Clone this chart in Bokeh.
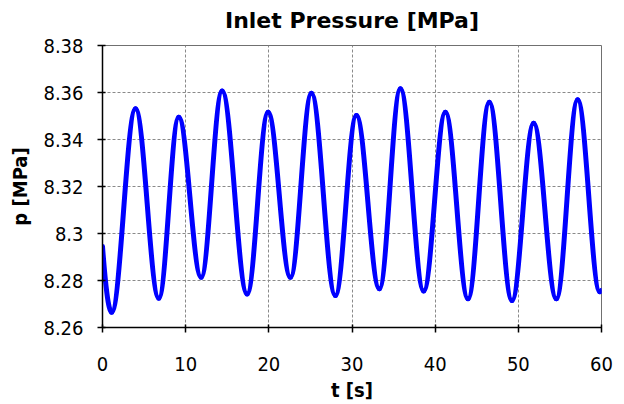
from bokeh.plotting import figure
from bokeh.models import FixedTicker, LinearAxis
from bokeh.embed import file_html
from bokeh.resources import INLINE

# Turning points of the inlet pressure trace (time in s, pressure in MPa)
t_s = [0.0, 1.1, 3.97, 6.77, 9.17, 11.86, 14.38, 17.39, 19.91, 22.6, 25.12, 28.0,
       30.53, 33.29, 35.82, 38.62, 41.23, 43.95, 46.51, 49.24, 51.84, 54.57, 57.13,
       59.8, 60.0]
p_mpa = [8.2945, 8.2665, 8.3531, 8.2725, 8.3495, 8.2814, 8.3606, 8.2743, 8.3516,
         8.2814, 8.3597, 8.2736, 8.3502, 8.2765, 8.3616, 8.2755, 8.3516, 8.2722,
         8.3559, 8.2715, 8.3469, 8.2722, 8.3569, 8.2752, 8.2758]

x_ticks = [0, 10, 20, 30, 40, 50, 60]
y_ticks = [8.26, 8.28, 8.3, 8.32, 8.34, 8.36, 8.38]
y_tick_labels = ["8.26", "8.28", "8.3", "8.32", "8.34", "8.36", "8.38"]
chart_title = "Inlet Pressure [MPa]"

FONT = "DejaVu Sans Condensed"

p = figure(width=624, height=404, x_range=(0, 60), y_range=(8.26, 8.38),
           output_backend="svg", toolbar_location=None,
           min_border_left=102, min_border_right=23,
           min_border_top=45, min_border_bottom=77)

x_axis = p.below[0]
y_axis = p.left[0]

# Title drawn as the label of a bare axis along the top edge, so its height
# within the top margin can be set freely
top_axis = LinearAxis(ticker=FixedTicker(ticks=[]), axis_label=chart_title,
                      axis_line_color=None, major_tick_line_color=None,
                      minor_tick_line_color=None, major_tick_out=0,
                      major_tick_in=0, major_label_standoff=0,
                      major_label_text_font_size="1px",
                      axis_label_standoff=13,
                      axis_label_text_font="DejaVu Sans",
                      axis_label_text_font_size="22px",
                      axis_label_text_font_style="bold",
                      axis_label_text_color="black")
p.add_layout(top_axis, "above")

p.outline_line_color = "#707070"
p.outline_line_width = 1

for ax in (x_axis, y_axis):
    ax.axis_line_color = "black"
    ax.axis_line_width = 1.5
    ax.major_tick_line_color = "black"
    ax.major_tick_line_width = 1.5
    ax.major_tick_out = 5
    ax.major_tick_in = 3
    ax.minor_tick_line_color = None
    ax.major_label_text_font = FONT
    ax.major_label_text_font_size = "20px"
    ax.major_label_text_color = "black"
    ax.axis_label_text_font = FONT
    ax.axis_label_text_font_size = "20px"
    ax.axis_label_text_font_style = "bold"
    ax.axis_label_text_color = "black"

x_axis.ticker = FixedTicker(ticks=x_ticks)
y_axis.ticker = FixedTicker(ticks=y_ticks)
y_axis.major_label_overrides = dict(zip(y_ticks, y_tick_labels))
x_axis.axis_label = "t [s]"
y_axis.axis_label = "p [MPa]"
x_axis.major_label_standoff = 24
y_axis.major_label_standoff = 14
x_axis.axis_label_standoff = 4
y_axis.axis_label_standoff = 8

p.xgrid.ticker = x_axis.ticker
p.ygrid.ticker = y_axis.ticker
p.grid.grid_line_color = "#8a8a8a"
p.grid.grid_line_dash = "3 2"
p.grid.grid_line_width = 1

# Smooth trace: cubic Bezier segments between successive turning points,
# with horizontal tangents at each peak and trough.
K = 0.3642
x0, y0, x1, y1, cx0, cy0, cx1, cy1 = [], [], [], [], [], [], [], []
n = len(t_s)
for i in range(n - 1):
    ta, pa, tb, pb = t_s[i], p_mpa[i], t_s[i + 1], p_mpa[i + 1]
    dt = tb - ta
    x0.append(ta); y0.append(pa); x1.append(tb); y1.append(pb)
    if i == 0:
        # trace starts mid-fall, not at a turning point
        cx0.append(ta + 0.3 * dt); cy0.append(pa + 0.55 * (pb - pa))
    else:
        cx0.append(ta + K * dt); cy0.append(pa)
    if i == n - 2:
        cx1.append(tb - 0.3 * dt); cy1.append(pb)
    else:
        cx1.append(tb - K * dt); cy1.append(pb)

p.bezier(x0=x0, y0=y0, x1=x1, y1=y1, cx0=cx0, cy0=cy0, cx1=cx1, cy1=cy1,
         line_color="#0000ff", line_width=5, line_cap="round")

open("out.html", "w").write(file_html(p, INLINE))
